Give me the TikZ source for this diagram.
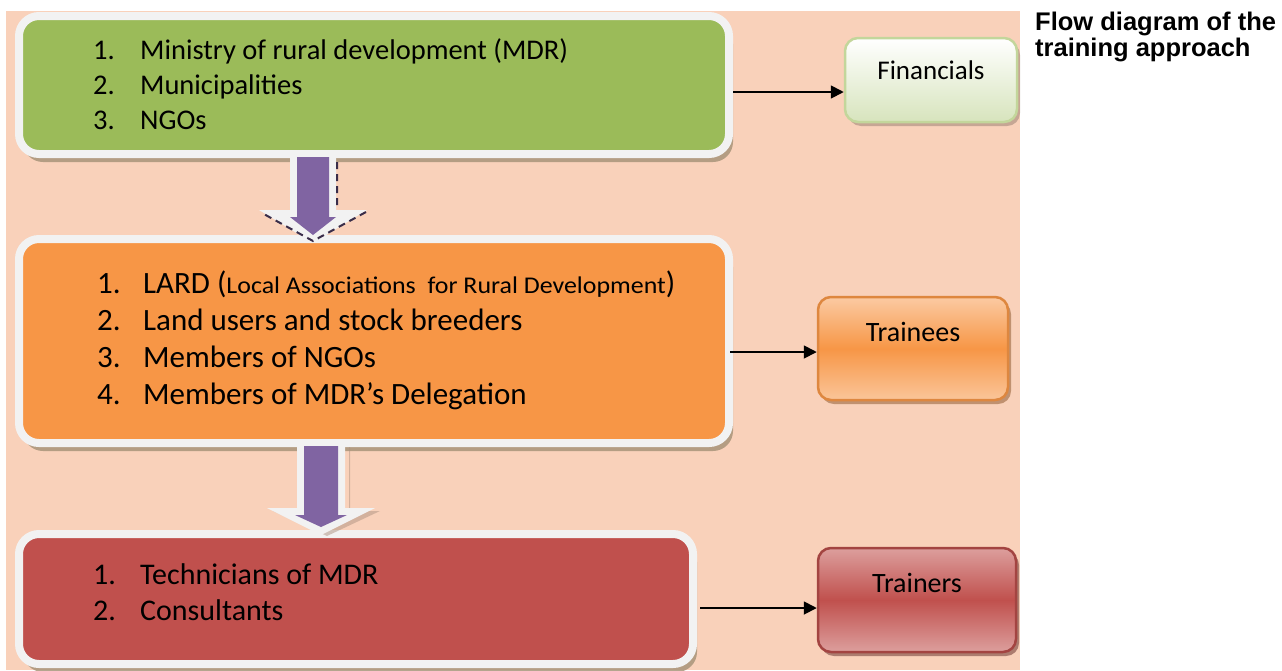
\documentclass[tikz,border=0pt]{standalone}
\usepackage{fontspec}
\setmainfont{Carlito}
\newfontfamily\titlefont{Liberation Sans}
\usetikzlibrary{arrows.meta,shadows}

\definecolor{peach}{HTML}{F9D1BA}
\definecolor{mdrgreen}{HTML}{9BBB59}
\definecolor{lardorange}{HTML}{F79646}
\definecolor{techred}{HTML}{C0504D}
\definecolor{blockpurple}{HTML}{8064A2}
\definecolor{rimwhite}{HTML}{F2F2F2}
\definecolor{rimshadow}{HTML}{A8957A}

% number of a list line, set in a box of the given width
\newcommand{\lnum}[2]{\makebox[#1][l]{#2.}}

\begin{document}
\begin{tikzpicture}[x=1pt,y=-1pt]

\tikzset{
  level box/.style={
    draw=rimwhite, line width=8pt, rounded corners=20pt,
    minimum width=710pt, inner sep=0pt,
    drop shadow={shadow xshift=4pt, shadow yshift=-8pt, fill=rimshadow, opacity=.85}
  },
  level list/.style={
    anchor=west, align=left, inner sep=0pt,
  },
  role box/.style={
    line width=2.5pt, rounded corners=13pt, inner sep=0pt,
    font=\fontsize{27}{32}\selectfont,
  },
  feeds/.style={
    -{Triangle[length=13pt,width=13pt]}, line width=1.8pt,
  }
}

\useasboundingbox (0,0) rectangle (1282,670);
\fill[peach] (6,11) rectangle (1020,670);

% Level boxes
\node[level box, fill=mdrgreen, minimum height=138pt] (funders) at (374,85) {};
\node[level box, fill=lardorange, minimum height=204pt] (members) at (374,341) {};
\node[level box, fill=techred, minimum width=674pt, minimum height=130pt] (experts) at (356,599) {};

% Lists
\node[level list, font=\fontsize{28.5}{35}\selectfont] (fundlist) at (93,84) {%
  \lnum{47pt}{1}Ministry of rural development (MDR)\\
  \lnum{47pt}{2}Municipalities\\
  \lnum{47pt}{3}NGOs};
\node[level list, font=\fontsize{31}{37}\selectfont] (memberlist) at (97,340) {%
  \lnum{46pt}{1}LARD (\scalebox{1.08}[1]{\fontsize{24}{28}\selectfont Local Associations\ \ for Rural Development})\\
  \lnum{46pt}{2}Land users and stock breeders\\
  \lnum{46pt}{3}Members of NGOs\\
  \lnum{46pt}{4}Members of MDR’s Delegation};
\node[level list, font=\fontsize{30}{36}\selectfont] (expertlist) at (93,592) {%
  \lnum{47pt}{1}Technicians of MDR\\
  \lnum{47pt}{2}Consultants};

% Role boxes
\node[role box, draw=mdrgreen!60!white, top color=white, bottom color=mdrgreen!40!white,
  minimum width=172pt, text height=41pt, text depth=43pt,
  drop shadow={shadow xshift=3pt, shadow yshift=-4pt, fill=black!40!peach}] (financials) at (931,80) {Financials};
\node[role box, draw=lardorange!90!black, top color=lardorange!50!white,
  bottom color=lardorange!55!white, middle color=lardorange, font=\fontsize{28}{32}\selectfont,
  minimum width=190pt, text height=44pt, text depth=59pt,
  drop shadow={shadow xshift=3pt, shadow yshift=-4pt, fill=lardorange!55!black}] (trainees) at (913,348.5) {Trainees};
\node[role box, draw=techred!85!black, top color=techred!55!white,
  bottom color=techred!55!white, middle color=techred, font=\fontsize{28}{32}\selectfont,
  minimum width=198pt, text height=44pt, text depth=60pt,
  drop shadow={shadow xshift=3pt, shadow yshift=-4pt, fill=techred!50!black}] (trainers) at (917,600) {Trainers};

% Block arrows between levels
\fill[black!30!peach, opacity=.5] (349,447) -- (350,447) -- (350,511) -- (380,511) -- (327,536) -- (273,511) -- (349,511) -- cycle;
\foreach \cx/\ytop/\ybase/\ytip/\ws/\ps/\ph in {313/152/210/243/23/16/23, 321/441/508/535/24/17/26} {
  \fill[rimwhite] (\cx-\ws,\ytop) -- (\cx+\ws,\ytop) -- (\cx+\ws,\ybase) -- (\cx+54,\ybase)
    -- (\cx,\ytip) -- (\cx-54,\ybase) -- (\cx-\ws,\ybase) -- cycle;
  \fill[blockpurple] (\cx-\ps,\ytop+5) -- (\cx+\ps,\ytop+5) -- (\cx+\ps,\ybase+7) -- (\cx+\ph,\ybase+7)
    -- (\cx,\ytip-8) -- (\cx-\ph,\ybase+7) -- (\cx-\ps,\ybase+7) -- cycle;
}
\draw[blockpurple!45!black, line width=2pt, dash pattern=on 7pt off 5pt]
  (337,162) -- (337,206) (366,212) -- (313,241) -- (262,213);

% Connectors
\coordinate (fin in) at ([yshift=-12pt]financials.west);
\coordinate (tee in) at ([yshift=-3.5pt]trainees.west);
\coordinate (ter in) at ([yshift=-8pt]trainers.west);
\draw[feeds] (funders.east |- fin in) -- (fin in);
\draw[feeds] ([xshift=-3pt]members.east |- tee in) -- (tee in);
\draw[feeds] ([xshift=3pt]experts.east |- ter in) -- (ter in);

% Title
\node[anchor=north west, align=left, inner sep=0pt,
  font=\titlefont\bfseries\fontsize{25.5}{26}\selectfont] (title) at (1035,12)
  {Flow diagram of the\\training approach};

\end{tikzpicture}
\end{document}
